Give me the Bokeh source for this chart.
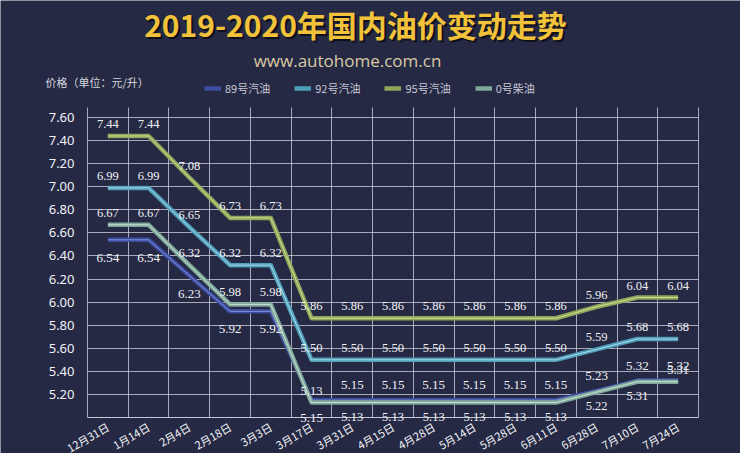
import math
from bokeh.plotting import figure
from bokeh.models import (FixedTicker, Label, LabelSet, Legend, LegendItem,
                          ColumnDataSource, NumeralTickFormatter, Range1d)
from bokeh.embed import file_html
from bokeh.resources import INLINE

# ---------------- data ----------------
dates = ["12月31日", "1月14日", "2月4日", "2月18日", "3月3日", "3月17日", "3月31日",
         "4月15日", "4月28日", "5月14日", "5月28日", "6月11日", "6月28日", "7月10日", "7月24日"]
p89 = [6.54, 6.54, 6.23, 5.92, 5.92, 5.15, 5.15, 5.15, 5.15, 5.15, 5.15, 5.15, 5.23, 5.32, 5.32]
p92 = [6.99, 6.99, 6.65, 6.32, 6.32, 5.50, 5.50, 5.50, 5.50, 5.50, 5.50, 5.50, 5.59, 5.68, 5.68]
p95 = [7.44, 7.44, 7.08, 6.73, 6.73, 5.86, 5.86, 5.86, 5.86, 5.86, 5.86, 5.86, 5.96, 6.04, 6.04]
p0 = [6.67, 6.67, 6.32, 5.98, 5.98, 5.13, 5.13, 5.13, 5.13, 5.13, 5.13, 5.13, 5.22, 5.31, 5.31]
series_names = ["89号汽油", "92号汽油", "95号汽油", "0号柴油"]
y_ticks = [5.20, 5.40, 5.60, 5.80, 6.00, 6.20, 6.40, 6.60, 6.80, 7.00, 7.20, 7.40, 7.60]
y_min = 5.0

# label placement (+1 above the line, -1 below)
side89 = [-1, -1, -1, -1, -1, -1, 1, 1, 1, 1, 1, 1, 1, 1, 1]
side0 = [1, 1, 1, 1, 1, 1, -1, -1, -1, -1, -1, -1, -1, -1, 1]

# ---------------- style / layout ----------------
W, H = 740, 453
PL, PR, PT, PB = 87, 698, 107, 417      # chart box in canvas pixels
BG = "#252944"
GRID = "#c9cad8"
TXT = "#f2f2f6"
colors = {"89号汽油": ("#3c4ca0", "#95a2e6"),
          "92号汽油": ("#4f9fba", "#c4e8f4"),
          "95号汽油": ("#8ea85a", "#dcebA4"),
          "0号柴油": ("#7fa89a", "#dcefe6")}

n = len(dates)
xs = list(range(n))

# ranges so that the chart box lands on PL..PR / PT..PB while the frame fills the canvas
x_per_px = n / (PR - PL)
x0 = -0.5 - PL * x_per_px
x1 = -0.5 + (W - PL) * x_per_px
y_per_px = (y_ticks[-1] - y_min) / (PB - 117)
y0 = y_min - (H - PB) * y_per_px
y1 = y_min + PB * y_per_px
y_top = y_min + (PB - PT) * y_per_px

p = figure(width=W, height=H, x_range=Range1d(x0, x1), y_range=Range1d(y0, y1),
           output_backend="svg", toolbar_location=None, title=None,
           min_border=0, background_fill_color=BG, border_fill_color=BG,
           outline_line_color=None)

# grids
p.xgrid.ticker = FixedTicker(ticks=[i - 0.5 for i in range(n + 1)])
p.xgrid.cross_bounds = (y_min, y_top)
p.ygrid.ticker = FixedTicker(ticks=y_ticks)
p.ygrid.cross_bounds = (-0.5, n - 0.5)
for g in (p.xgrid[0], p.ygrid[0]):
    g.grid_line_color = GRID
    g.grid_line_alpha = 0.8
    g.grid_line_width = 1

# y axis
p.yaxis.fixed_location = -0.5
p.yaxis.ticker = FixedTicker(ticks=y_ticks)
p.yaxis.formatter = NumeralTickFormatter(format="0.00")
p.yaxis.axis_line_color = None
p.yaxis.major_tick_line_color = None
p.yaxis.minor_tick_line_color = None
p.yaxis.major_tick_out = 0
p.yaxis.major_label_standoff = 13
p.yaxis.major_label_text_color = TXT
p.yaxis.major_label_text_font = "Noto Sans"
p.yaxis.major_label_text_font_size = "13px"

# x axis
p.xaxis.fixed_location = y_min
p.xaxis.bounds = (-0.5, n - 0.5)
p.xaxis.ticker = FixedTicker(ticks=xs)
p.xaxis.major_label_overrides = {i: d for i, d in enumerate(dates)}
p.xaxis.major_label_orientation = math.pi / 6
p.xaxis.axis_line_color = GRID
p.xaxis.major_tick_line_color = None
p.xaxis.minor_tick_line_color = None
p.xaxis.major_tick_out = 0
p.xaxis.major_label_standoff = 8
p.xaxis.major_label_text_color = TXT
p.xaxis.major_label_text_font = "Noto Sans CJK SC"
p.xaxis.major_label_text_font_size = "11px"

# lines
vals = {"89号汽油": p89, "92号汽油": p92, "95号汽油": p95, "0号柴油": p0}
rmap = {}
for name in ["89号汽油", "0号柴油", "92号汽油", "95号汽油"]:
    band, hl = colors[name]
    rmap[name] = p.line(xs, vals[name], line_color=band, line_width=4.5, line_join="round")
    p.line(xs, vals[name], line_color=hl, line_width=1, line_alpha=0.8)

legend = Legend(items=[LegendItem(label=nm, renderers=[rmap[nm]]) for nm in series_names],
                orientation="horizontal", location=(204, H - 96), padding=0, margin=0,
                spacing=24, glyph_width=17, glyph_height=12, label_standoff=4,
                background_fill_alpha=0, border_line_color=None,
                label_text_color="#c8c8d4", label_text_font="Noto Sans CJK SC",
                label_text_font_size="11px", label_height=12)
p.add_layout(legend, "center")

# data labels
def add_labels(v, offs, font, size):
    src = ColumnDataSource(dict(x=xs, y=v, t=["%.2f" % a for a in v], dy=offs))
    p.add_layout(LabelSet(x="x", y="y", text="t", y_offset="dy", source=src,
                          text_align="center", text_baseline="middle",
                          text_color=TXT, text_font=font, text_font_size=size))

add_labels(p95, [12] * n, "Liberation Serif", "12.5px")
add_labels(p92, [12] * n, "Liberation Serif", "12.5px")
add_labels(p0, [12 if s > 0 else -14 for s in side0], "Liberation Serif", "12.5px")
add_labels(p89, [15 if s > 0 else -18 for s in side89], "Noto Sans", "13px")

# titles (screen units: origin at bottom-left of the canvas-filling frame)
title = "2019-2020年国内油价变动走势"
p.add_layout(Label(x=357, y=H - 25, x_units="screen", y_units="screen", text=title,
                   text_align="center", text_baseline="middle", text_color="#0c0c14",
                   text_alpha=0.85, text_font="Noto Sans CJK SC", text_font_style="bold",
                   text_font_size="30px"))
p.add_layout(Label(x=355, y=H - 23, x_units="screen", y_units="screen", text=title,
                   text_align="center", text_baseline="middle", text_color="#f2c23a",
                   text_font="Noto Sans CJK SC", text_font_style="bold",
                   text_font_size="30px"))
p.add_layout(Label(x=347, y=H - 60, x_units="screen", y_units="screen",
                   text="www.autohome.com.cn", text_align="center", text_baseline="middle",
                   text_color="#dac9a6", text_font="Open Sans", text_font_size="17px"))
p.add_layout(Label(x=45, y=H - 81, x_units="screen", y_units="screen",
                   text="价格（单位：元/升）", text_align="left", text_baseline="middle",
                   text_color="#d6d6de", text_font="Noto Sans CJK SC", text_font_size="11px"))

open("out.html", "w").write(file_html(p, INLINE))
